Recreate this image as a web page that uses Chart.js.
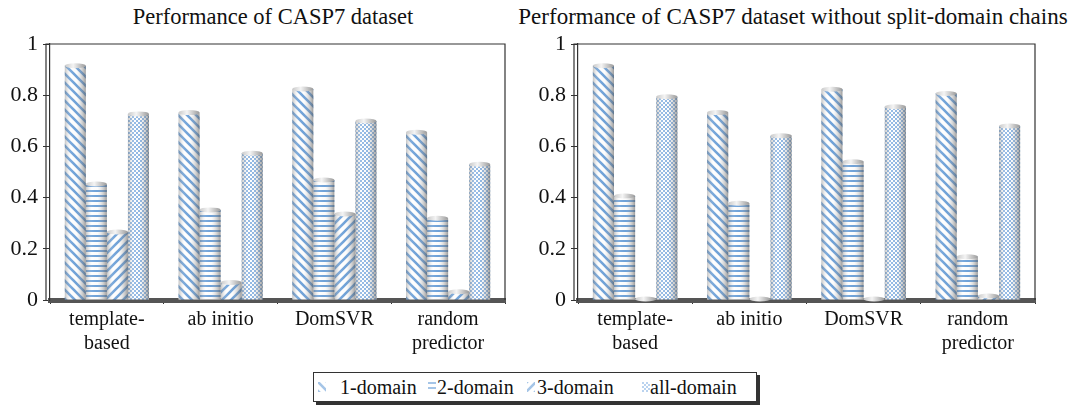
<!DOCTYPE html>
<html>
<head>
<meta charset="utf-8">
<script src="https://cdn.jsdelivr.net/npm/chart.js@4.4.1/dist/chart.umd.min.js"></script>
<style>
body { margin: 0; background: #fff; width: 1075px; height: 414px; position: relative; overflow: hidden; font-family: "Liberation Serif", serif; color: #111; }
.box { position: absolute; top: 0; height: 360px; }
.title { position: absolute; top: 5px; line-height: 24px; white-space: nowrap; transform: translateX(-50%); }
#legend { position: absolute; left: 313px; top: 372px; width: 442px; height: 28px; border: 1px solid #333; box-shadow: 3px 3px 0 #333; font-size: 20px; }
#legend canvas, #legend span { position: absolute; }
#legend span { top: 2px; line-height: 24px; white-space: nowrap; }
#legend canvas { top: 9px; }
</style>
</head>
<body>
<div class="title" style="left:273px;font-size:22.5px">Performance of CASP7 dataset</div>
<div class="title" style="left:793px;font-size:23px">Performance of CASP7 dataset without split-domain chains</div>
<div class="box" style="left:0;width:537px"><canvas id="leftChart"></canvas></div>
<div class="box" style="left:537px;width:538px"><canvas id="rightChart"></canvas></div>
<div id="legend"></div>
<script>
var categories = [['template-', 'based'], 'ab initio', 'DomSVR', ['random', 'predictor']];
var seriesNames = ['1-domain', '2-domain', '3-domain', 'all-domain'];

// Performance of CASP7 dataset
var leftOne = [0.915, 0.732, 0.824, 0.655];
var leftTwo = [0.453, 0.352, 0.469, 0.319];
var leftThree = [0.266, 0.068, 0.336, 0.032];
var leftAll = [0.727, 0.573, 0.699, 0.530];

// without split-domain chains
var rightOne = [0.915, 0.732, 0.823, 0.807];
var rightTwo = [0.406, 0.378, 0.540, 0.169];
var rightThree = [0.004, 0.004, 0.004, 0.016];
var rightAll = [0.794, 0.642, 0.755, 0.680];

var yTicks = [0, 0.2, 0.4, 0.6, 0.8, 1];

var blue = '#6a9fd8';

function makePattern(kind) {
    var c = document.createElement('canvas');
    var ctx = c.getContext('2d');
    if (kind == 'hstripe') {
        c.width = 5; c.height = 5;
        ctx.fillStyle = '#fff'; ctx.fillRect(0, 0, 5, 5);
        ctx.fillStyle = blue; ctx.fillRect(0, 0, 5, 2);
    } else if (kind == 'dots') {
        c.width = 4; c.height = 4;
        ctx.fillStyle = '#fff'; ctx.fillRect(0, 0, 4, 4);
        ctx.fillStyle = '#8db6e4';
        ctx.fillRect(0, 0, 2, 2); ctx.fillRect(2, 2, 2, 2);
    } else {
        var s = 9;
        c.width = s; c.height = s;
        ctx.fillStyle = '#fff'; ctx.fillRect(0, 0, s, s);
        ctx.strokeStyle = blue;
        ctx.lineWidth = 2.6;
        ctx.beginPath();
        if (kind == 'back') {
            ctx.moveTo(-1, -1); ctx.lineTo(s + 1, s + 1);
            ctx.moveTo(-s / 2 - 1, s / 2 - 1); ctx.lineTo(s / 2 + 1, s + s / 2 + 1);
            ctx.moveTo(s / 2 - 1, -s / 2 - 1); ctx.lineTo(s + s / 2 + 1, s / 2 + 1);
        } else {
            ctx.moveTo(-1, s + 1); ctx.lineTo(s + 1, -1);
            ctx.moveTo(-s / 2 - 1, s / 2 + 1); ctx.lineTo(s / 2 + 1, -s / 2 - 1);
            ctx.moveTo(s / 2 - 1, s + s / 2 + 1); ctx.lineTo(s + s / 2 + 1, s / 2 - 1);
        }
        ctx.stroke();
    }
    return c;
}

var patternKinds = ['back', 'hstripe', 'fwd', 'dots'];

function fills(ctx) {
    return patternKinds.map(function (k) { return ctx.createPattern(makePattern(k), 'repeat'); });
}

// cylinder shading over each bar plus a top cap
var cylinderPlugin = {
    id: 'cylinder',
    afterDatasetsDraw: function (chart) {
        var ctx = chart.ctx;
        ctx.save();
        chart.data.datasets.forEach(function (ds, i) {
            var meta = chart.getDatasetMeta(i);
            meta.data.forEach(function (bar) {
                var left = bar.x - bar.width / 2;
                var right = bar.x + bar.width / 2;
                var top = bar.y, bottom = bar.base;
                var g = ctx.createLinearGradient(left, 0, right, 0);
                g.addColorStop(0, 'rgba(120,120,120,0.45)');
                g.addColorStop(0.3, 'rgba(255,255,255,0.1)');
                g.addColorStop(0.55, 'rgba(200,200,200,0.05)');
                g.addColorStop(1, 'rgba(90,90,90,0.6)');
                ctx.fillStyle = g;
                ctx.fillRect(left, top, right - left, bottom - top);
                var cg = ctx.createLinearGradient(left, 0, right, 0);
                cg.addColorStop(0, '#c9c9c9');
                cg.addColorStop(0.4, '#f4f4f4');
                cg.addColorStop(1, '#9a9a9a');
                ctx.fillStyle = cg;
                ctx.beginPath();
                ctx.ellipse(bar.x, top, bar.width / 2, 2.5, 0, 0, Math.PI * 2);
                ctx.fill();
            });
        });
        ctx.restore();
    },
    afterDraw: function (chart) {
        var a = chart.chartArea;
        var ctx = chart.ctx;
        ctx.save();
        ctx.strokeStyle = '#333';
        ctx.lineWidth = 1.2;
        ctx.beginPath();
        ctx.moveTo(a.left - 4, a.bottom);
        ctx.lineTo(a.left - 4, a.top);
        ctx.lineTo(a.right, a.top);
        ctx.lineTo(a.right, a.bottom);
        ctx.stroke();
        ctx.restore();
    }
};

function buildChart(id, values, yWidth, rightPad) {
    var canvas = document.getElementById(id);
    var ctx = canvas.getContext('2d');
    var pats = fills(ctx);
    var datasets = [];
    for (var i = 0; i < values.length; i++) {
        datasets.push({
            label: seriesNames[i],
            data: values[i],
            backgroundColor: pats[i],
            borderWidth: 0,
            categoryPercentage: 0.74,
            barPercentage: 1.0
        });
    }
    return new Chart(ctx, {
        type: 'bar',
        data: { labels: categories, datasets: datasets },
        options: {
            responsive: true,
            maintainAspectRatio: false,
            animation: false,
            layout: { padding: { left: 0, right: rightPad, top: 44, bottom: 0 } },
            plugins: {
                legend: { display: false },
                tooltip: { enabled: false }
            },
            scales: {
                x: {
                    afterFit: function (scale) { scale.height = 60; },
                    grid: { display: true, drawOnChartArea: false, offset: true, tickLength: 4, color: '#333' },
                    border: { display: true, color: '#555', width: 5 },
                    ticks: {
                        color: '#111',
                        padding: 4,
                        maxRotation: 0,
                        font: { family: 'Liberation Serif', size: 20 }
                    }
                },
                y: {
                    min: 0,
                    max: 1,
                    afterFit: function (scale) { scale.width = yWidth; },
                    afterBuildTicks: function (scale) {
                        scale.ticks = yTicks.map(function (v) { return { value: v }; });
                    },
                    grid: { display: true, drawOnChartArea: false, tickLength: 7, color: '#333' },
                    border: { display: true, color: '#333', width: 1.2 },
                    ticks: {
                        color: '#111',
                        padding: 5,
                        font: { family: 'Liberation Serif', size: 22 },
                        callback: function (v) { return String(v); }
                    }
                }
            }
        },
        plugins: [cylinderPlugin]
    });
}

buildChart('leftChart', [leftOne, leftTwo, leftThree, leftAll], 50, 32);
buildChart('rightChart', [rightOne, rightTwo, rightThree, rightAll], 41, 40);

// legend
var legend = document.getElementById('legend');
var swatchX = [4, 114, 213, 328];
var textX = [26, 123, 223, 336];
seriesNames.forEach(function (name, i) {
    var sw = document.createElement('canvas');
    sw.width = 8; sw.height = 10;
    sw.style.left = swatchX[i] + 'px';
    var sctx = sw.getContext('2d');
    sctx.globalAlpha = 0.6;
    sctx.fillStyle = sctx.createPattern(makePattern(patternKinds[i]), 'repeat');
    sctx.fillRect(0, 0, 8, 10);
    legend.appendChild(sw);
    var t = document.createElement('span');
    t.textContent = name;
    t.style.left = textX[i] + 'px';
    legend.appendChild(t);
});
</script>
</body>
</html>
